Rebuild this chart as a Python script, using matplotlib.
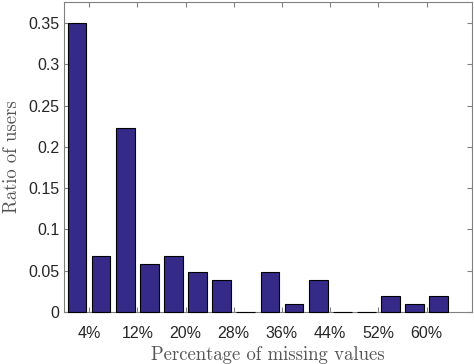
import matplotlib
matplotlib.use("Agg")
import matplotlib.pyplot as plt
from matplotlib.ticker import FormatStrFormatter

# bar centres (percentage of missing values) and ratio of users
bin_centers = [2, 6, 10, 14, 18, 22, 26, 30, 34, 38, 42, 46, 50, 54, 58, 62]
ratios = [0.3495, 0.068, 0.2233, 0.0583, 0.068, 0.0485, 0.0388, 0.0,
          0.0485, 0.0097, 0.0388, 0.0, 0.0, 0.0194, 0.0097, 0.0194]
xtick_pos = [4, 12, 20, 28, 36, 44, 52, 60]
xtick_labels = ["4%", "12%", "20%", "28%", "36%", "44%", "52%", "60%"]
ytick_pos = [0, 0.05, 0.1, 0.15, 0.2, 0.25, 0.3, 0.35]

fig = plt.figure(figsize=(4.74, 3.64), dpi=100)
ax = fig.add_axes([0.1357, 0.1429, 0.86, 0.8516])

bars = ax.bar(bin_centers, ratios, width=3.1, color="#352a87",
              edgecolor="black", linewidth=0.8, zorder=3)
for b in bars:
    b.set_clip_on(False)

ax.set_xlim(-0.1, 67.5)
ax.set_ylim(0, 0.3754)
ax.set_xticks(xtick_pos)
ax.set_xticklabels(xtick_labels)
ax.set_yticks(ytick_pos)
ax.yaxis.set_major_formatter(FormatStrFormatter("%g"))

axis_grey = "#808080"
for s in ax.spines.values():
    s.set_color(axis_grey)
    s.set_linewidth(0.8)
ax.tick_params(direction="in", length=3.5, width=0.8, color=axis_grey,
               top=True, right=True, labelsize=11.5, labelcolor="#262626")
for lbl in ax.get_xticklabels() + ax.get_yticklabels():
    lbl.set_family("Liberation Sans")
ax.tick_params(axis="x", pad=10)

ax.set_xlabel("Percentage of missing values", family="cmr10", fontsize=13.5,
              color="#555555", labelpad=4)
ax.set_ylabel("Ratio of users", family="cmr10", fontsize=13.5,
              color="#555555")
ax.yaxis.set_label_coords(-0.107, 0.5)

fig.savefig("out.png", dpi=100)
